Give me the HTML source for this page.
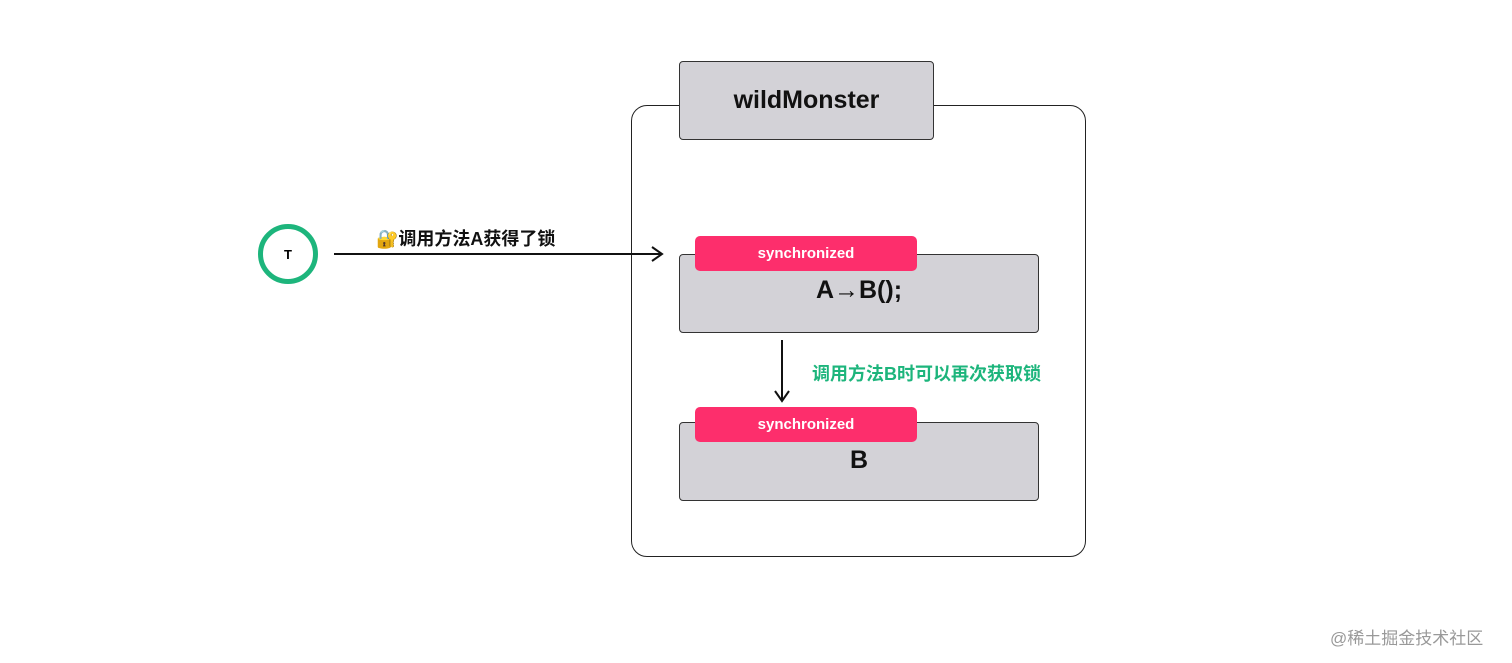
<!DOCTYPE html>
<html><head><meta charset="utf-8"><style>
body{margin:0;width:1512px;height:663px;background:#fff;position:relative;overflow:hidden;font-family:"Liberation Sans","Noto Sans CJK SC",sans-serif}
.a{position:absolute}
.box{background:#d3d2d7;border:1.2px solid #333;border-radius:4px;box-sizing:border-box}
.tag{background:#fd2e6c;border-radius:5px;color:#fff;font-weight:bold;font-size:15px;text-align:center;box-sizing:border-box}
</style></head><body>
<div class="a" style="left:631px;top:105px;width:455px;height:452px;border:1.5px solid #222;border-radius:16px;box-sizing:border-box"></div>
<div class="a box" style="left:679px;top:61px;width:255px;height:79px;font-weight:bold;font-size:25px;line-height:77px;text-align:center;color:#111">wildMonster</div>
<div class="a box" style="left:679px;top:254px;width:360px;height:79px"></div>
<div class="a tag" style="left:695px;top:236px;width:222px;height:35px;line-height:35px">synchronized</div>
<div class="a" style="left:679px;top:276px;width:360px;text-align:center;font-weight:bold;font-size:25px;color:#111">A→B();</div>
<div class="a box" style="left:679px;top:422px;width:360px;height:79px"></div>
<div class="a tag" style="left:695px;top:407px;width:222px;height:35px;line-height:35px">synchronized</div>
<div class="a" style="left:679px;top:446px;width:360px;text-align:center;font-weight:bold;font-size:25px;color:#111">B</div>
<svg class="a" style="left:0;top:0" width="1512" height="663">
<circle cx="288" cy="254" r="27.5" fill="none" stroke="#1db57c" stroke-width="5"/>
<text x="288" y="259" font-size="13" font-weight="bold" text-anchor="middle" font-family="Liberation Sans">T</text>
<line x1="334" y1="254" x2="661" y2="254" stroke="#111" stroke-width="2"/>
<polyline points="652,247 662,254 652,261" fill="none" stroke="#111" stroke-width="2"/>
<line x1="782" y1="340" x2="782" y2="400" stroke="#111" stroke-width="2"/>
<polyline points="775,391 782,401 789,391" fill="none" stroke="#111" stroke-width="2"/>
</svg>
<div class="a" style="left:376px;top:225px;font-size:18px;font-weight:bold;color:#111">🔐调用方法A获得了锁</div>
<div class="a" style="left:812px;top:360px;font-size:18px;font-weight:bold;color:#1db57c">调用方法B时可以再次获取锁</div>
<div class="a" style="left:1330px;top:624px;font-size:17px;color:#999">@稀土掘金技术社区</div>
</body></html>
